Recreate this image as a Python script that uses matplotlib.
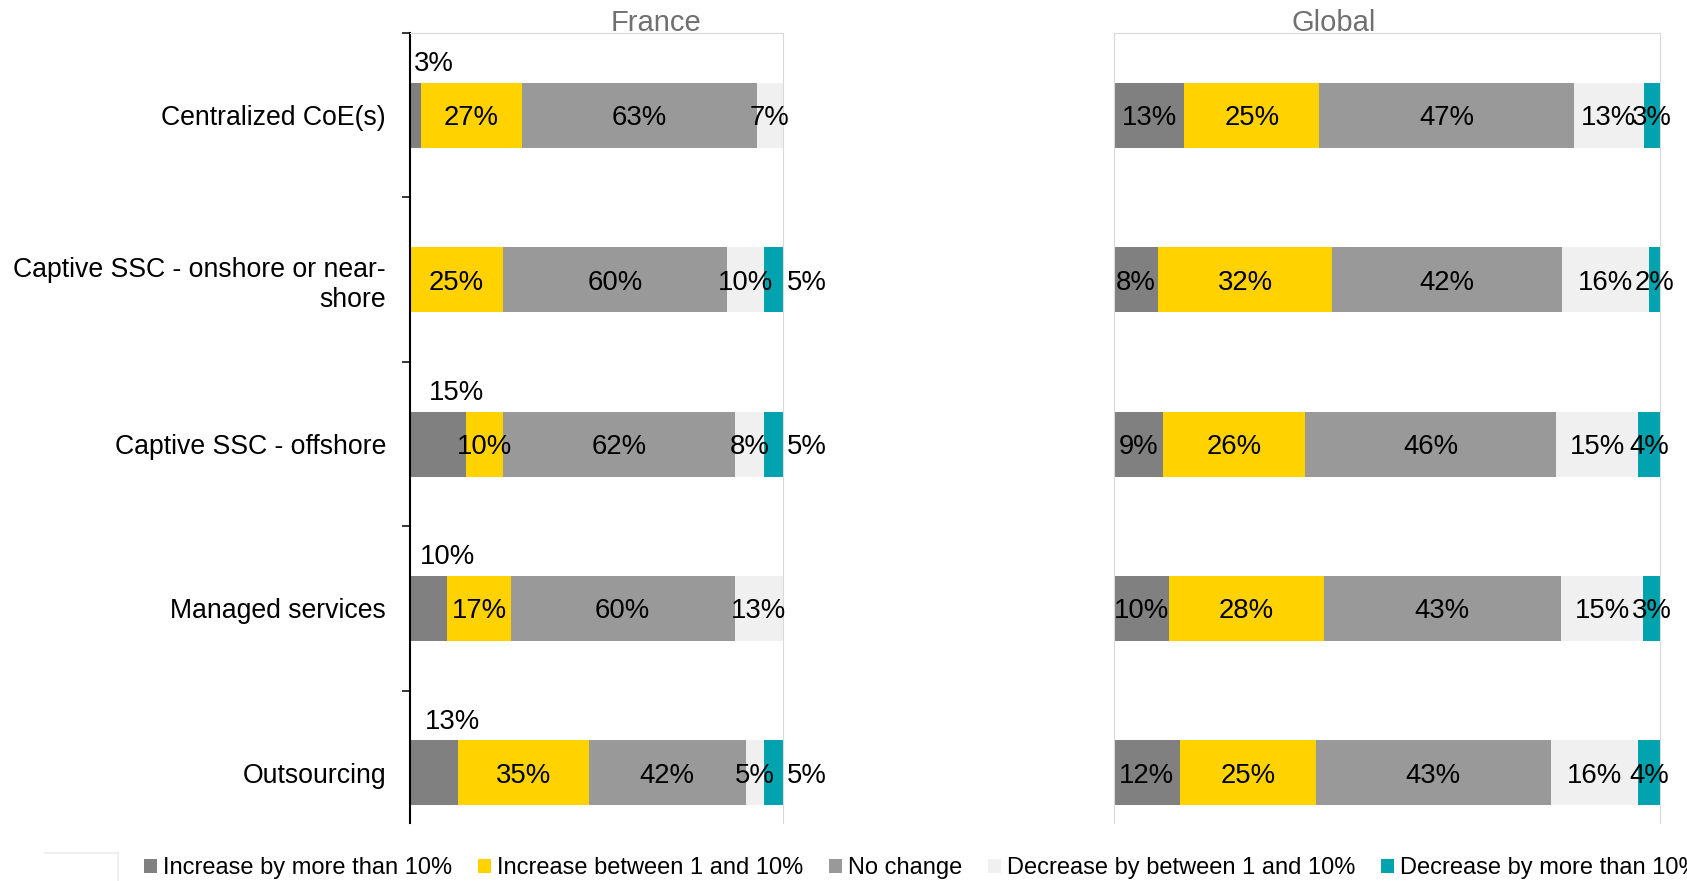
import numpy as np
import matplotlib.pyplot as plt
from matplotlib.lines import Line2D

plt.rcParams['font.family'] = ['Liberation Sans', 'DejaVu Sans']

categories = ['Centralized CoE(s)', 'Captive SSC - onshore or near-\nshore',
              'Captive SSC - offshore', 'Managed services', 'Outsourcing']
series_names = ['Increase by more than 10%', 'Increase between 1 and 10%', 'No change',
                'Decrease by between 1 and 10%', 'Decrease by more than 10%']
colors = ['#808080', '#FFD200', '#999999', '#F0F0F0', '#00A3AE']

# France
france_up_big = [3, 0, 15, 10, 13]
france_up_small = [27, 25, 10, 17, 35]
france_same = [63, 60, 62, 60, 42]
france_down_small = [7, 10, 8, 13, 5]
france_down_big = [0, 5, 5, 0, 5]

# Global
global_up_big = [13, 8, 9, 10, 12]
global_up_small = [25, 32, 26, 28, 25]
global_same = [47, 42, 46, 43, 43]
global_down_small = [13, 16, 15, 15, 16]
global_down_big = [3, 2, 4, 3, 4]

W, H = 1687, 881
BAR_H = 0.395


def draw_panel(ax, series, side_labels=False):
    vals = np.array(series, dtype=float).T
    shares = vals / vals.sum(axis=1)[:, None] * 100  # 100% stacked
    y = np.arange(len(categories))
    left = np.zeros(len(categories))
    for j, name in enumerate(series_names):
        ax.barh(y, shares[:, j], left=left, height=BAR_H, color=colors[j], label=name)
        for i in range(len(y)):
            v = vals[i, j]
            if v == 0:
                continue
            cx, cy = left[i] + shares[i, j] / 2, y[i]
            if side_labels and j == 0:
                cx, cy = cx + 5, y[i] - 0.33
            elif side_labels and j == len(series_names) - 1:
                cx = left[i] + shares[i, j] + 6.5
            ax.text(cx, cy, f'{v:.0f}%', ha='center', va='center_baseline', fontsize=19.8,
                    color='black', clip_on=False)
        left += shares[:, j]
    ax.set_xlim(0, 100)
    ax.set_ylim(4.305, -0.5)
    ax.set_xticks([])
    ax.spines['bottom'].set_visible(False)
    for s in ['top', 'right', 'left']:
        ax.spines[s].set_color('#d9d9d9')
        ax.spines[s].set_linewidth(0.8)


fig = plt.figure(figsize=(W / 100, H / 100), dpi=100)
ax1 = fig.add_axes([410 / W, 58 / H, 373 / W, 790 / H])
ax2 = fig.add_axes([1114 / W, 58 / H, 546 / W, 790 / H])

draw_panel(ax1, [france_up_big, france_up_small, france_same, france_down_small, france_down_big],
           side_labels=True)
draw_panel(ax2, [global_up_big, global_up_small, global_same, global_down_small, global_down_big])

ax1.spines['left'].set_color('black')
ax1.spines['left'].set_linewidth(1.5)
ax1.set_yticks(np.arange(len(categories)))
ax1.set_yticklabels(categories, fontsize=19.2)
ax1.tick_params(axis='y', which='major', length=0, pad=17.3)
ax1.set_yticks(np.arange(-0.5, 4, 1), minor=True)
ax1.tick_params(axis='y', which='minor', length=5.8, width=1.1, direction='out', color='black')
ax2.set_yticks([])

fig.text(656 / W, 1 - 23 / H, 'France', ha='center', va='center', fontsize=21, color='#707070')
fig.text(1334 / W, 1 - 23 / H, 'Global', ha='center', va='center', fontsize=21, color='#707070')

# leftover frame corner at bottom left
fig.add_artist(Line2D([45 / W, 118 / W], [1 - 853 / H] * 2, color='#ebebeb', lw=1.2))
fig.add_artist(Line2D([118 / W] * 2, [1 - 853 / H, 0], color='#ebebeb', lw=1.2))

handles, labels = ax1.get_legend_handles_labels()
fig.legend(handles, labels, loc='center left', bbox_to_anchor=(144 / W, 13 / H), ncol=5,
           frameon=False, fontsize=17, handlelength=0.55, handleheight=0.55,
           handletextpad=0.25, columnspacing=1.1, borderpad=0, borderaxespad=0)

fig.savefig('out.png', dpi=100)
